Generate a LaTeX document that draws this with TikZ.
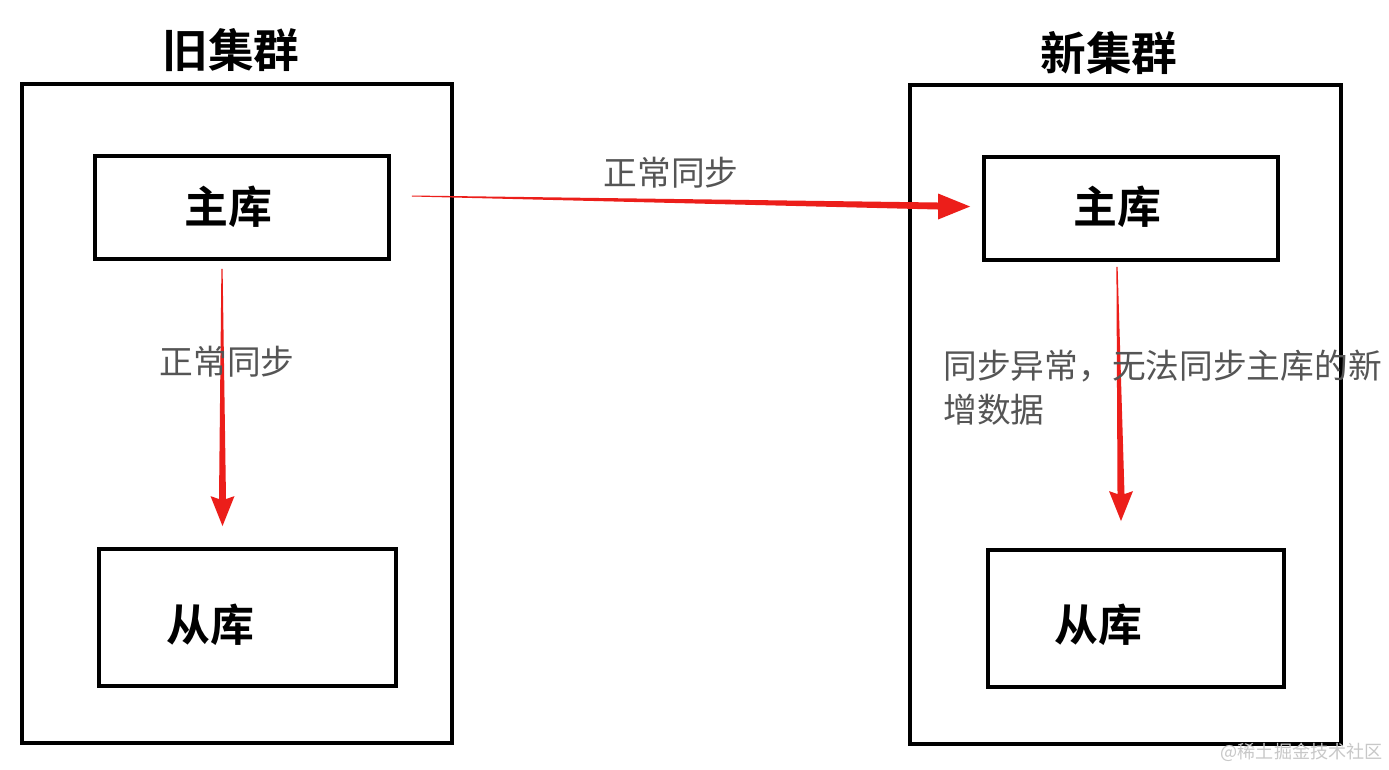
\documentclass[tikz,border=0pt]{standalone}
\usepackage{fontspec}
\newfontfamily\cjk{Noto Sans CJK SC}
\newfontfamily\cjkb{Noto Sans CJK SC Bold}
\usetikzlibrary{calc}
\definecolor{arrred}{RGB}{236,30,26}
\definecolor{lblgray}{RGB}{85,85,85}
\definecolor{wmgray}{RGB}{200,200,200}
\tikzset{
  dbbox/.style={draw=black, line width=2.2pt, inner sep=0pt},
  title/.style={font=\cjkb\fontsize{26}{28}\selectfont, inner sep=0pt},
  dbtext/.style={font=\cjkb\fontsize{25}{28}\selectfont, inner sep=0pt},
  lbl/.style={font=\cjk\fontsize{19.2}{25}\selectfont, text=lblgray, inner sep=0pt},
  taper/.style={fill=arrred, draw=none}
}
\begin{document}
\begin{tikzpicture}[x=0.02cm,y=-0.02cm]
\useasboundingbox (0,0) rectangle (1389,769);
\fill[white] (0,0) rectangle (1389,769);
% clusters
\draw[line width=2.6pt] (22,84) rectangle (452,743);
\draw[line width=2.6pt] (910,85) rectangle (1341,744);
\node[title] (t1) at (231,50) {旧集群};
\node[title] (t2) at (1109,53) {新集群};
% boxes
\node[dbbox, minimum width=294*0.02cm, minimum height=103*0.02cm] (lm) at (242,207.5) {};
\node[dbbox, minimum width=297*0.02cm, minimum height=137*0.02cm] (ls) at (247.5,617.5) {};
\node[dbbox, minimum width=294*0.02cm, minimum height=103*0.02cm] (rm) at (1131,208.5) {};
\node[dbbox, minimum width=296*0.02cm, minimum height=137*0.02cm] (rs) at (1136,618.5) {};
\node[dbtext] at (228,207) {主库};
\node[dbtext] at (210,625) {从库};
\node[dbtext] at (1117,207) {主库};
\node[dbtext] at (1098,625) {从库};
% arrow coordinates
\coordinate (hs) at ($(lm.east)+(21,-12)$);
\coordinate (ht) at ($(rm.west)+(-12,-2)$);
\coordinate (ls1) at ($(lm.south)+(-20,8)$);
\coordinate (lt) at ($(ls.north)+(-25,-21)$);
\coordinate (rs1) at ($(rm.south)+(-14,5)$);
\coordinate (rt) at ($(rs.north)+(-15,-27)$);
% horizontal tapered arrow
\fill[taper] (hs) -- ($(ht)+(-32,-4)$) -- ($(ht)+(-32,-13)$) -- (ht) -- ($(ht)+(-32,13)$) -- ($(ht)+(-32,3)$) -- ($(hs)+(0,1)$) -- cycle;
% left vertical tapered arrow
\fill[taper] ($(ls1)+(-0.6,0)$) -- ($(lt)+(-3.5,-27)$) -- ($(lt)+(-12,-30)$) -- (lt) -- ($(lt)+(12,-30)$) -- ($(lt)+(3.5,-27)$) -- ($(ls1)+(0.6,0)$) -- cycle;
% right vertical tapered arrow
\fill[taper] ($(rs1)+(-0.6,0)$) -- ($(rt)+(-3.5,-27)$) -- ($(rt)+(-12,-30)$) -- (rt) -- ($(rt)+(12,-30)$) -- ($(rt)+(3.5,-27)$) -- ($(rs1)+(0.6,0)$) -- cycle;
% labels
\node[lbl] (l1) at (671,173) {正常同步};
\node[lbl] (l2) at (227,362) {正常同步};
\node[lbl, anchor=west] (l3) at (943,366) {同步异常，无法同步主库的新};
\node[lbl, anchor=west] (l4) at (943,410) {增数据};
\node[font=\cjk\fontsize{10.3}{12}\selectfont, text=wmgray, inner sep=0pt, anchor=east] (wm) at (1383,752) {@稀土掘金技术社区};
\end{tikzpicture}
\end{document}
